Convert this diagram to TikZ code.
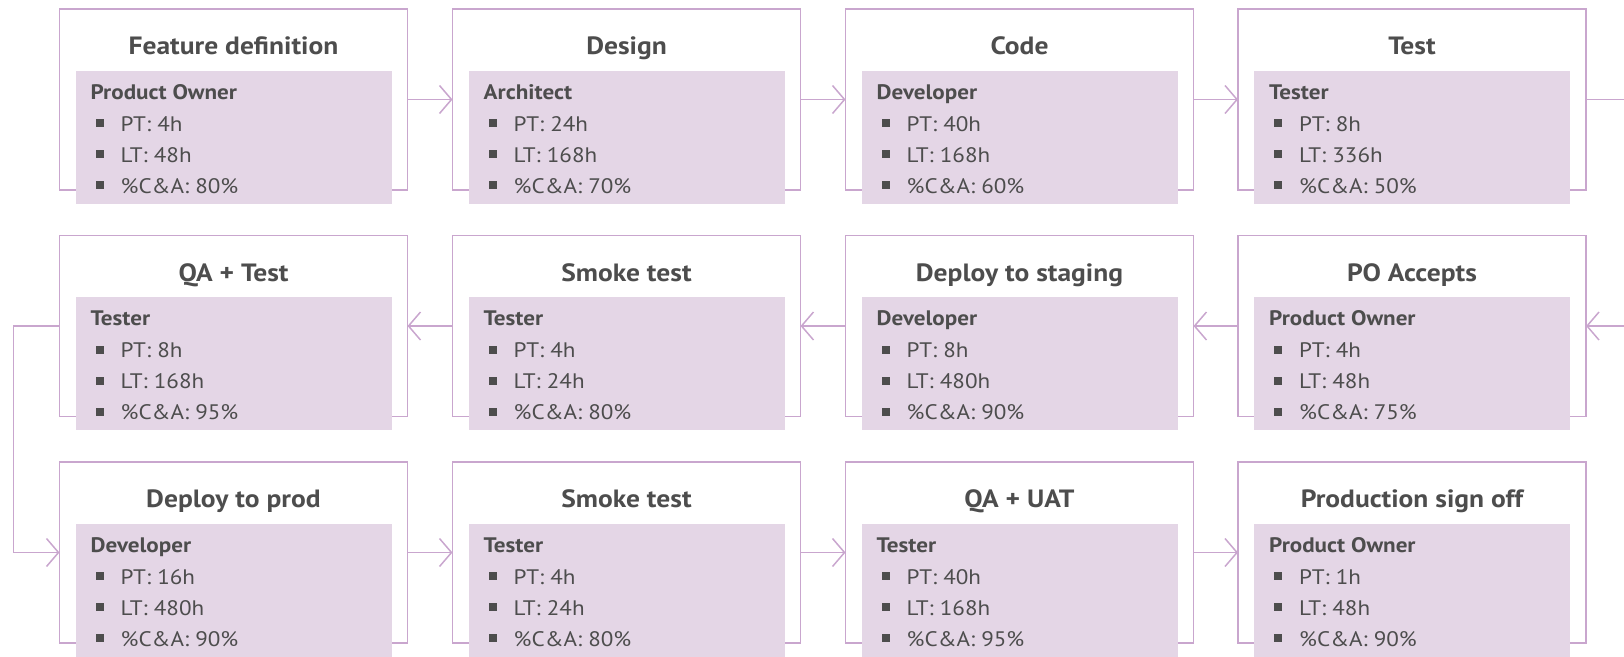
\documentclass[tikz,border=0pt]{standalone}
\usepackage{fontspec}
\setmainfont{PT Sans}[FakeStretch=1.1]
\usetikzlibrary{arrows.meta}
\definecolor{frame}{RGB}{201,166,206}
\definecolor{rolefill}{RGB}{228,214,230}
\definecolor{ink}{RGB}{77,77,77}
\tikzset{
  stepframe/.style={draw=frame, line width=1.5pt, minimum width=348pt, minimum height=181pt, inner sep=0pt, outer sep=0pt},
  rolebox/.style={fill=rolefill, minimum width=316pt, minimum height=133.3pt, inner sep=0pt},
  titletext/.style={font=\fontsize{25}{30}\selectfont\bfseries, text=ink, anchor=base, inner sep=0pt},
  roletext/.style={font=\fontsize{21}{25}\selectfont\bfseries, text=ink, anchor=base west, inner sep=0pt},
  itemtext/.style={font=\fontsize{21}{25}\selectfont, text=ink, anchor=base west, inner sep=0pt},
  conn/.style={draw=frame, line width=1.5pt},
  arr/.style={conn, -{Straight Barb[length=12pt,width=28pt]}},
}
\newcommand\vsmbul{\makebox[25pt][l]{\color{ink}\rule[3.7pt]{8pt}{8pt}}}
\newcommand\vsmstep[8]{%
  \node[stepframe] (#1) at (#2,#3) {};
  \node[rolebox] (#1r) at ([yshift=-128.3pt]#1.north) {};
  \node[titletext] (#1t) at ([yshift=-45.5pt]#1.north) {#4};
  \node[roletext] (#1a) at ([xshift=31pt,yshift=-90pt]#1.north west) {#5};
  \node[itemtext] (#1b) at ([xshift=36pt,yshift=-122pt]#1.north west) {\vsmbul PT: #6};
  \node[itemtext] (#1c) at ([xshift=36pt,yshift=-153pt]#1.north west) {\vsmbul LT: #7};
  \node[itemtext] (#1d) at ([xshift=36pt,yshift=-184pt]#1.north west) {\vsmbul \%C\&A: #8};
}
\begin{document}
\begin{tikzpicture}[x=1pt,y=-1pt]
\useasboundingbox (0,0) rectangle (1624,656);
% row 1
\vsmstep{s1}{233.5}{99.5}{Feature definition}{Product Owner}{4h}{48h}{80\%}
\vsmstep{s2}{626.5}{99.5}{Design}{Architect}{24h}{168h}{70\%}
\vsmstep{s3}{1019.5}{99.5}{Code}{Developer}{40h}{168h}{60\%}
\vsmstep{s4}{1412}{99.5}{Test}{Tester}{8h}{336h}{50\%}
% row 2
\vsmstep{s5}{1412}{326}{PO Accepts}{Product Owner}{4h}{48h}{75\%}
\vsmstep{s6}{1019.5}{326}{Deploy to staging}{Developer}{8h}{480h}{90\%}
\vsmstep{s7}{626.5}{326}{Smoke test}{Tester}{4h}{24h}{80\%}
\vsmstep{s8}{233.5}{326}{QA + Test}{Tester}{8h}{168h}{95\%}
% row 3
\vsmstep{s9}{233.5}{552.5}{Deploy to prod}{Developer}{16h}{480h}{90\%}
\vsmstep{s10}{626.5}{552.5}{Smoke test}{Tester}{4h}{24h}{80\%}
\vsmstep{s11}{1019.5}{552.5}{QA + UAT}{Tester}{40h}{168h}{95\%}
\vsmstep{s12}{1412}{552.5}{Production sign off}{Product Owner}{1h}{48h}{90\%}
% connectors
\coordinate (rout) at (1624,99.5);
\coordinate (rin) at (1624,326);
\coordinate (lx) at (13.3,326);
\draw[arr] (s1.east) -- (s2.west);
\draw[arr] (s2.east) -- (s3.west);
\draw[arr] (s3.east) -- (s4.west);
\draw[conn] (s4.east) -- (rout);
\draw[arr] (rin) -- (s5.east);
\draw[arr] (s5.west) -- (s6.east);
\draw[arr] (s6.west) -- (s7.east);
\draw[arr] (s7.west) -- (s8.east);
\draw[arr] (s8.west) -- (lx) |- (s9.west);
\draw[arr] (s9.east) -- (s10.west);
\draw[arr] (s10.east) -- (s11.west);
\draw[arr] (s11.east) -- (s12.west);
\end{tikzpicture}
\end{document}
